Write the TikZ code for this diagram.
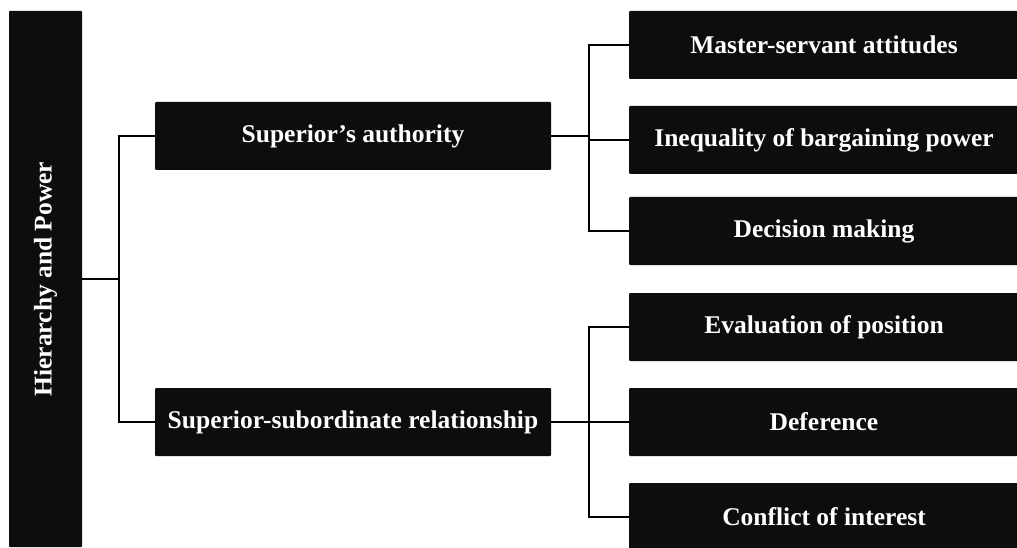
\documentclass[tikz,border=0pt]{standalone}
\usepackage{fontspec}
\setmainfont{Liberation Serif}
\usetikzlibrary{positioning}

\begin{document}
\begin{tikzpicture}[x=1pt,y=-1pt,
  blk/.style={fill=black!95,text=white,font=\bfseries\fontsize{25.5}{30}\selectfont,
    inner sep=0pt,minimum height=68pt,rounded corners=1pt},
  mid/.style={blk,minimum width=396pt},
  leaf/.style={blk,minimum width=390pt},
  lnk/.style={line width=2pt}]
\useasboundingbox (0,0) rectangle (1017,548);
\node[blk,rotate=90,minimum width=536pt,minimum height=73pt] (hp) at (45.5,279) {Hierarchy and Power};
\node[mid] (sa) at (353,136) {Superior’s authority};
\node[mid] (ss) at (353,422) {Superior-subordinate relationship};
\node[leaf] (ms) at (824,45) {Master-servant attitudes};
\node[leaf] (ib) at (824,140) {Inequality of bargaining power};
\node[leaf] (dm) at (824,231) {Decision making};
\node[leaf] (ep) at (824,327) {Evaluation of position};
\node[leaf] (df) at (824,422) {Deference};
\node[leaf] (ci) at (824,517) {Conflict of interest};
\coordinate (j1) at (119,279);
\coordinate (j2) at (589,136);
\coordinate (j3) at (589,422);
\draw[lnk] (hp.south) -- (j1);
\draw[lnk] (sa.west) -| (j1) |- (ss.west);
\draw[lnk] (sa.east) -- (j2);
\draw[lnk] (ms.west) -| (j2) |- (dm.west);
\draw[lnk] (ib.west) -- (ib.west -| j2);
\draw[lnk] (ss.east) -- (j3);
\draw[lnk] (ep.west) -| (j3) |- (ci.west);
\draw[lnk] (df.west) -- (df.west -| j3);
\end{tikzpicture}
\end{document}
